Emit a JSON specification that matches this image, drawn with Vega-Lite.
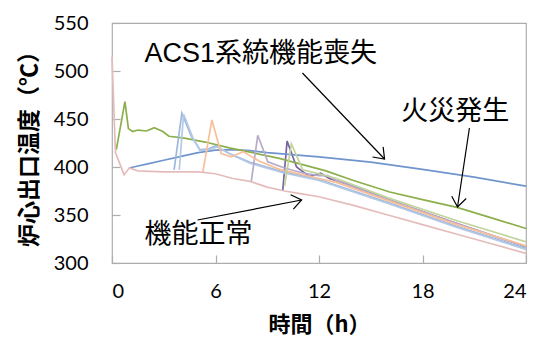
{
  "$schema": "https://vega.github.io/schema/vega-lite/v6.json",
  "width": 414,
  "height": 240,
  "autosize": "none",
  "padding": {"left": 112, "top": 23, "right": 14, "bottom": 81},
  "background": "white",
  "config": {
    "view": {"stroke": "#ADADAD", "strokeWidth": 1.2},
    "axis": {"grid": false, "domain": false, "tickColor": "#ADADAD", "tickWidth": 1.2, "labelFont": "Lato", "labelFontSize": 20, "labelColor": "#000000", "titleFont": "Noto Sans CJK JP", "titleFontWeight": "bold", "titleColor": "#000000"}
  },
  "datasets": {
    "lines": [
      {"s": "1purple", "t": 9.9, "v": 376}, {"s": "1purple", "t": 10.15, "v": 427}, {"s": "1purple", "t": 10.7, "v": 400}, {"s": "1purple", "t": 11.45, "v": 390}, {"s": "1purple", "t": 12.1, "v": 393.5}, {"s": "1purple", "t": 12.6, "v": 388}, {"s": "1purple", "t": 13.5, "v": 383}, {"s": "1purple", "t": 16, "v": 366}, {"s": "1purple", "t": 20, "v": 341}, {"s": "1purple", "t": 24, "v": 317},
      {"s": "2acs", "t": 1.0, "v": 399}, {"s": "2acs", "t": 1.5, "v": 401}, {"s": "2acs", "t": 2, "v": 403}, {"s": "2acs", "t": 3, "v": 407}, {"s": "2acs", "t": 4, "v": 411}, {"s": "2acs", "t": 5, "v": 415}, {"s": "2acs", "t": 6, "v": 417.5}, {"s": "2acs", "t": 7, "v": 418}, {"s": "2acs", "t": 8, "v": 417}, {"s": "2acs", "t": 9, "v": 415}, {"s": "2acs", "t": 12, "v": 410.5}, {"s": "2acs", "t": 15, "v": 405}, {"s": "2acs", "t": 18, "v": 397.5}, {"s": "2acs", "t": 21, "v": 389.5}, {"s": "2acs", "t": 24, "v": 380},
      {"s": "3fire", "t": 0.25, "v": 418}, {"s": "3fire", "t": 0.75, "v": 468}, {"s": "3fire", "t": 0.95, "v": 440}, {"s": "3fire", "t": 1.2, "v": 437}, {"s": "3fire", "t": 1.5, "v": 438.5}, {"s": "3fire", "t": 2, "v": 437.5}, {"s": "3fire", "t": 2.45, "v": 441}, {"s": "3fire", "t": 2.95, "v": 437}, {"s": "3fire", "t": 3.3, "v": 432}, {"s": "3fire", "t": 4.2, "v": 430}, {"s": "3fire", "t": 5.4, "v": 426}, {"s": "3fire", "t": 6.8, "v": 420}, {"s": "3fire", "t": 9.7, "v": 409}, {"s": "3fire", "t": 12.4, "v": 396}, {"s": "3fire", "t": 14, "v": 386}, {"s": "3fire", "t": 16.1, "v": 374}, {"s": "3fire", "t": 18, "v": 366}, {"s": "3fire", "t": 20, "v": 358}, {"s": "3fire", "t": 22, "v": 347}, {"s": "3fire", "t": 24, "v": 336},
      {"s": "4lb1", "t": 3.6, "v": 397}, {"s": "4lb1", "t": 4.05, "v": 456}, {"s": "4lb1", "t": 4.6, "v": 432}, {"s": "4lb1", "t": 5.1, "v": 418}, {"s": "4lb1", "t": 5.6, "v": 419}, {"s": "4lb1", "t": 6.0, "v": 422}, {"s": "4lb1", "t": 6.8, "v": 414}, {"s": "4lb1", "t": 8, "v": 405}, {"s": "4lb1", "t": 9.9, "v": 395}, {"s": "4lb1", "t": 12, "v": 387}, {"s": "4lb1", "t": 13, "v": 381}, {"s": "4lb1", "t": 16, "v": 363}, {"s": "4lb1", "t": 20, "v": 338}, {"s": "4lb1", "t": 24, "v": 315},
      {"s": "5lb2", "t": 3.9, "v": 397}, {"s": "5lb2", "t": 4.15, "v": 455}, {"s": "5lb2", "t": 4.7, "v": 430}, {"s": "5lb2", "t": 5.1, "v": 417}, {"s": "5lb2", "t": 5.6, "v": 418}, {"s": "5lb2", "t": 6.1, "v": 421}, {"s": "5lb2", "t": 6.9, "v": 413}, {"s": "5lb2", "t": 8, "v": 404}, {"s": "5lb2", "t": 9.9, "v": 394}, {"s": "5lb2", "t": 12, "v": 386}, {"s": "5lb2", "t": 16, "v": 362}, {"s": "5lb2", "t": 20, "v": 337}, {"s": "5lb2", "t": 24, "v": 314},
      {"s": "6lavender", "t": 8.07, "v": 384.5}, {"s": "6lavender", "t": 8.45, "v": 433}, {"s": "6lavender", "t": 9.03, "v": 405.5}, {"s": "6lavender", "t": 10, "v": 399}, {"s": "6lavender", "t": 11, "v": 394}, {"s": "6lavender", "t": 12, "v": 391}, {"s": "6lavender", "t": 12.5, "v": 391}, {"s": "6lavender", "t": 13, "v": 386}, {"s": "6lavender", "t": 16, "v": 366}, {"s": "6lavender", "t": 20, "v": 341}, {"s": "6lavender", "t": 24, "v": 317},
      {"s": "7salmon", "t": 5.27, "v": 395}, {"s": "7salmon", "t": 5.79, "v": 449}, {"s": "7salmon", "t": 6.33, "v": 414}, {"s": "7salmon", "t": 6.9, "v": 410.5}, {"s": "7salmon", "t": 7.6, "v": 416}, {"s": "7salmon", "t": 8.55, "v": 406}, {"s": "7salmon", "t": 9.7, "v": 397.5}, {"s": "7salmon", "t": 12, "v": 388}, {"s": "7salmon", "t": 13, "v": 384}, {"s": "7salmon", "t": 16, "v": 365}, {"s": "7salmon", "t": 20, "v": 340}, {"s": "7salmon", "t": 24, "v": 318},
      {"s": "8lgreen", "t": 10.0, "v": 380}, {"s": "8lgreen", "t": 10.4, "v": 424}, {"s": "8lgreen", "t": 11.06, "v": 397}, {"s": "8lgreen", "t": 12, "v": 393}, {"s": "8lgreen", "t": 13, "v": 388}, {"s": "8lgreen", "t": 16, "v": 368}, {"s": "8lgreen", "t": 20, "v": 344}, {"s": "8lgreen", "t": 24, "v": 322},
      {"s": "9normal", "t": 0, "v": 515}, {"s": "9normal", "t": 0.2, "v": 415}, {"s": "9normal", "t": 0.7, "v": 392}, {"s": "9normal", "t": 1.0, "v": 399}, {"s": "9normal", "t": 1.5, "v": 396}, {"s": "9normal", "t": 3, "v": 395}, {"s": "9normal", "t": 5, "v": 395}, {"s": "9normal", "t": 6, "v": 393}, {"s": "9normal", "t": 7, "v": 388}, {"s": "9normal", "t": 8, "v": 385}, {"s": "9normal", "t": 9, "v": 379}, {"s": "9normal", "t": 10, "v": 375}, {"s": "9normal", "t": 11, "v": 372}, {"s": "9normal", "t": 12, "v": 369}, {"s": "9normal", "t": 14, "v": 360}, {"s": "9normal", "t": 16, "v": 350}, {"s": "9normal", "t": 18, "v": 340}, {"s": "9normal", "t": 20, "v": 330}, {"s": "9normal", "t": 22, "v": 320}, {"s": "9normal", "t": 24, "v": 310}
    ],
    "arrows": [
      {"id": "acs", "x": 11.04, "y": 497.9, "x2": 15.8, "y2": 408.3},
      {"id": "fire", "x": 20.72, "y": 440.6, "x2": 20.03, "y2": 358.3},
      {"id": "normal", "x": 4.96, "y": 344.8, "x2": 10.99, "y2": 365.6}
    ],
    "labels": [
      {"text": "ACS1系統機能喪失", "x": 1.88, "y": 517.7},
      {"text": "火災発生", "x": 16.77, "y": 457.3},
      {"text": "機能正常", "x": 1.88, "y": 329.2}
    ]
  },
  "encoding": {
    "x": {"type": "quantitative", "scale": {"domain": [0, 24], "nice": false}, "axis": {"values": [0, 6, 12, 18, 24], "tickSize": -8, "labelPadding": 26, "title": "時間（h）", "titleFontSize": 22, "titlePadding": 13}},
    "y": {"type": "quantitative", "scale": {"domain": [300, 550], "nice": false}, "axis": {"values": [300, 350, 400, 450, 500, 550], "tickSize": -8, "labelPadding": 32, "title": "炉心出口温度（℃）", "titleFontSize": 23, "titlePadding": 12}}
  },
  "layer": [
    {
      "data": {"name": "lines"},
      "mark": {"type": "line", "strokeWidth": 1.7},
      "encoding": {
        "x": {"field": "t"},
        "y": {"field": "v"},
        "color": {"field": "s", "type": "nominal", "legend": null,
          "scale": {"domain": ["1purple", "2acs", "3fire", "4lb1", "5lb2", "6lavender", "7salmon", "8lgreen", "9normal"],
                    "range": ["#7A62A3", "#7094CD", "#8CAF4C", "#9DB8DC", "#B4C9E6", "#B7ABCC", "#F8BF98", "#C1D49A", "#E4BDBB"]}},
        "order": {"field": "t"}
      }
    },
    {
      "data": {"name": "arrows"},
      "mark": {"type": "rule", "color": "#000000", "strokeWidth": 1.2},
      "encoding": {"x": {"field": "x"}, "y": {"field": "y"}, "x2": {"field": "x2"}, "y2": {"field": "y2"}}
    },
    {
      "data": {"name": "arrows"},
      "transform": [{"filter": "datum.id == 'acs'"}],
      "mark": {"type": "point", "shape": "M -1 -0.75 L 0 0 L -1 0.75", "filled": false, "stroke": "#000000", "strokeWidth": 1.2, "size": 380, "angle": 46.4, "opacity": 1},
      "encoding": {"x": {"field": "x2"}, "y": {"field": "y2"}}
    },
    {
      "data": {"name": "arrows"},
      "transform": [{"filter": "datum.id == 'fire'"}],
      "mark": {"type": "point", "shape": "M -1 -0.75 L 0 0 L -1 0.75", "filled": false, "stroke": "#000000", "strokeWidth": 1.2, "size": 380, "angle": 98.6, "opacity": 1},
      "encoding": {"x": {"field": "x2"}, "y": {"field": "y2"}}
    },
    {
      "data": {"name": "arrows"},
      "transform": [{"filter": "datum.id == 'normal'"}],
      "mark": {"type": "point", "shape": "M -1 -0.75 L 0 0 L -1 0.75", "filled": false, "stroke": "#000000", "strokeWidth": 1.2, "size": 380, "angle": 349.1, "opacity": 1},
      "encoding": {"x": {"field": "x2"}, "y": {"field": "y2"}}
    },
    {
      "data": {"name": "labels"},
      "mark": {"type": "text", "align": "left", "baseline": "middle", "font": "Liberation Sans, Noto Sans CJK JP", "fontSize": 27, "color": "#000000"},
      "encoding": {"x": {"field": "x"}, "y": {"field": "y"}, "text": {"field": "text"}}
    }
  ]
}
